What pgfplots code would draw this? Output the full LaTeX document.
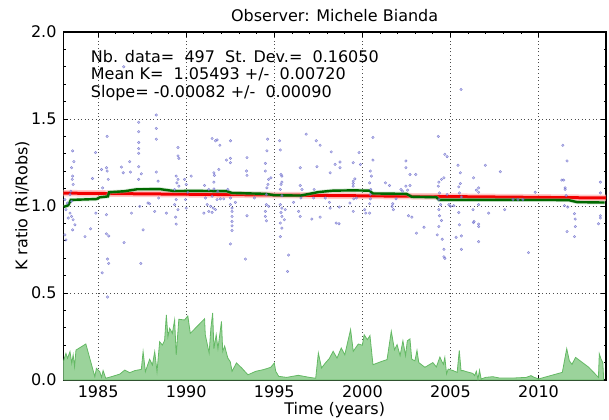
\documentclass[border=0pt]{standalone}
\usepackage{pgfplots}
\usepackage{pgfplotstable}
\pgfplotsset{compat=1.18}
\usepackage{fontspec}
\setmainfont{DejaVu Sans}

\definecolor{scatc}{RGB}{95,95,200}
\definecolor{fillc}{RGB}{155,211,155}
\definecolor{edgec}{RGB}{100,185,100}
\definecolor{meanc}{RGB}{0,105,0}

% individual K ratios
\pgfplotstableread{
x y
1983.55 1.317
1983.62 1.255
1983.49 1.220
1983.55 1.172
1983.53 1.153
1983.58 1.124
1983.45 1.085
1983.40 1.066
1983.11 1.037
1983.49 1.027
1983.25 1.017
1983.17 0.979
1983.40 0.959
1983.49 0.940
1983.30 0.931
1983.58 0.921
1983.68 0.892
1983.55 0.863
1983.11 0.834
1983.17 0.805
1984.25 0.824
1984.57 0.869
1984.68 1.158
1984.85 1.307
1984.87 0.959
1985.19 1.210
1985.47 1.220
1985.51 1.201
1985.57 1.153
1985.51 1.400
1985.25 1.104
1985.47 0.950
1985.47 0.840
1985.60 0.828
1985.53 0.695
1985.60 0.670
1985.23 0.616
1985.53 0.477
1986.45 1.800
1986.32 1.224
1986.42 1.191
1986.79 1.255
1986.83 1.195
1986.47 0.790
1986.89 0.959
1987.30 1.481
1987.30 1.427
1987.30 1.365
1987.30 1.330
1987.30 1.303
1987.30 1.226
1987.30 1.153
1987.45 1.185
1987.42 0.670
1987.55 0.863
1987.36 0.998
1987.83 1.017
1987.92 1.013
1988.21 0.969
1988.30 1.523
1988.30 1.446
1988.30 1.384
1988.30 1.195
1988.40 1.143
1988.43 1.046
1988.87 0.959
1989.53 1.336
1989.53 1.288
1989.58 1.274
1989.43 1.172
1989.53 1.153
1989.47 1.133
1989.58 1.114
1989.34 1.095
1989.43 1.037
1989.34 1.008
1989.53 0.979
1989.40 0.936
1989.43 0.896
1989.91 1.153
1990.00 1.124
1990.09 1.079
1990.28 1.172
1989.96 1.037
1990.00 0.988
1991.47 1.388
1991.66 1.375
1991.75 1.380
1991.91 1.349
1992.51 1.375
1992.28 1.264
1992.51 1.274
1992.51 1.249
1991.85 1.210
1991.57 1.191
1991.60 1.176
1991.57 1.137
1991.04 1.118
1991.28 1.095
1991.57 1.098
1991.79 1.085
1992.36 1.095
1991.09 1.046
1991.47 1.056
1991.75 1.037
1991.94 1.041
1992.13 1.041
1992.51 1.046
1991.19 1.008
1991.38 0.998
1991.53 0.988
1991.66 0.979
1991.28 0.969
1991.47 0.963
1991.00 0.959
1992.51 1.008
1992.60 0.988
1992.60 0.969
1992.60 0.940
1992.60 0.911
1992.60 0.886
1992.60 0.859
1992.51 0.782
1992.79 1.021
1993.45 1.278
1993.42 1.201
1993.45 1.176
1993.45 0.944
1993.36 0.695
1993.87 1.046
1994.49 1.245
1994.49 1.201
1994.62 1.384
1994.58 1.317
1994.68 1.153
1994.64 1.124
1994.58 1.104
1994.55 1.066
1994.55 1.008
1994.68 0.998
1994.49 0.969
1994.49 0.940
1994.55 0.915
1994.81 1.162
1995.30 1.375
1995.34 1.322
1995.38 1.181
1995.43 1.172
1995.43 1.137
1995.38 1.124
1995.34 1.095
1995.43 1.060
1995.34 1.008
1995.43 0.988
1995.38 0.963
1995.43 0.940
1995.34 0.902
1995.43 0.873
1995.34 0.824
1995.62 0.979
1995.57 0.921
1995.81 0.718
1995.75 0.624
1996.09 1.021
1996.47 1.220
1996.47 1.118
1996.57 1.095
1996.51 1.046
1996.38 0.969
1996.47 0.940
1996.81 1.413
1997.13 0.925
1997.26 1.095
1997.23 1.046
1997.38 1.375
1997.60 1.349
1997.42 1.226
1997.60 0.936
1997.89 1.046
1998.13 1.021
1998.17 1.191
1998.23 1.311
1998.17 0.988
1998.51 0.902
1998.45 1.239
1998.73 1.253
1998.73 1.220
1999.48 1.249
1999.57 1.156
1999.48 1.143
1999.48 1.129
1999.48 1.114
1999.66 1.046
1999.51 1.041
1999.81 1.307
1999.89 1.239
1998.69 0.994
1998.67 0.898
1999.48 0.969
1999.29 1.017
2000.13 0.979
2000.19 0.959
2000.41 1.013
2000.45 1.041
2000.45 1.066
2000.47 1.095
2000.41 1.133
2000.51 1.172
2000.45 1.201
2000.60 1.394
2000.60 1.264
2000.41 0.959
2001.31 1.133
2001.54 1.118
2001.69 0.998
2001.72 1.013
2001.76 0.979
2001.91 1.041
2002.19 1.095
2002.28 1.085
2002.47 1.114
2002.57 1.091
2002.70 1.118
2002.47 1.220
2002.47 1.259
2002.70 1.181
2003.03 1.181
2002.62 0.944
2002.81 0.936
2003.07 0.844
2003.50 0.878
2004.31 1.400
2004.34 1.137
2004.49 1.153
2004.63 1.162
2004.31 1.114
2004.38 1.075
2004.34 1.037
2004.44 1.008
2004.34 0.979
2004.38 0.944
2004.49 0.917
2004.34 0.882
2004.53 0.809
2004.63 0.751
2004.63 0.708
2004.68 0.699
2004.25 0.834
2004.68 1.297
2004.81 1.284
2004.81 1.066
2004.91 1.008
2005.00 0.998
2005.19 1.002
2005.43 1.234
2005.56 1.191
2005.56 1.129
2005.47 1.110
2005.51 1.075
2005.62 1.052
2005.47 0.963
2005.51 0.892
2005.62 0.828
2005.32 0.820
2005.62 0.751
2005.60 1.670
2006.31 1.162
2006.31 0.905
2006.47 1.091
2006.60 1.104
2006.60 1.079
2006.28 0.979
2006.34 0.911
2006.60 0.896
2006.60 0.882
2006.60 1.008
2006.60 0.795
2006.98 1.234
2007.17 0.959
2007.83 1.197
2008.08 0.979
2009.43 0.732
2009.81 1.079
2008.55 1.037
2008.83 1.037
2009.11 1.037
2011.38 1.349
2011.62 1.259
2011.32 1.149
2011.43 1.149
2011.51 1.104
2011.51 1.095
2011.57 1.060
2011.47 1.002
2011.66 0.994
2011.62 0.853
2012.04 0.956
2012.08 0.925
2012.09 0.882
2012.04 0.824
2013.51 1.137
2013.51 1.075
2013.51 0.944
2013.51 0.931
2013.40 0.898
}\kdata

% running mean
\pgfplotstableread{
x y
1983.05 0.995
1983.30 1.004
1983.45 1.035
1984.90 1.040
1985.10 1.050
1985.55 1.055
1985.62 1.079
1986.50 1.085
1987.20 1.096
1988.50 1.097
1989.30 1.086
1990.50 1.087
1992.30 1.085
1992.60 1.075
1994.50 1.070
1995.00 1.062
1996.50 1.060
1997.00 1.070
1997.50 1.080
1998.30 1.088
1999.50 1.090
2000.40 1.088
2000.60 1.072
2002.50 1.070
2002.80 1.053
2004.20 1.050
2004.35 1.035
2008.00 1.035
2011.70 1.034
2012.20 1.022
2013.75 1.020
}\runmean

% running scatter (bottom area)
\pgfplotstableread{
x y
1983.02 0.000
1983.02 0.105
1983.17 0.153
1983.26 0.125
1983.40 0.163
1983.50 0.096
1983.58 0.144
1983.66 0.077
1983.74 0.172
1984.30 0.207
1984.81 0.019
1984.90 0.067
1985.09 0.048
1985.19 0.015
1985.28 0.054
1985.43 0.010
1985.75 0.019
1986.23 0.034
1986.51 0.057
1986.79 0.042
1987.08 0.054
1987.45 0.061
1987.55 0.163
1987.68 0.048
1987.92 0.119
1988.08 0.086
1988.21 0.163
1988.34 0.048
1988.49 0.220
1988.64 0.201
1988.77 0.226
1988.87 0.374
1988.96 0.249
1989.06 0.297
1989.21 0.268
1989.34 0.345
1989.43 0.144
1989.58 0.349
1989.90 0.345
1990.09 0.368
1990.23 0.268
1991.04 0.352
1991.08 0.260
1991.30 0.155
1991.40 0.300
1991.50 0.385
1991.57 0.180
1991.70 0.260
1991.80 0.180
1992.00 0.337
1992.07 0.165
1992.18 0.195
1992.36 0.126
1992.50 0.105
1992.60 0.050
1992.85 0.098
1993.15 0.069
1993.50 0.030
1993.95 0.050
1994.40 0.060
1994.80 0.073
1995.00 0.098
1995.08 0.050
1995.25 0.021
1995.70 0.015
1996.36 0.027
1997.00 0.015
1997.35 0.010
1997.50 0.155
1997.68 0.069
1997.90 0.098
1998.12 0.123
1998.34 0.165
1998.56 0.126
1998.80 0.184
1999.00 0.145
1999.33 0.290
1999.48 0.165
1999.61 0.184
1999.77 0.207
2000.00 0.200
2000.10 0.260
2000.28 0.232
2000.43 0.255
2000.60 0.088
2001.10 0.107
2001.40 0.117
2001.64 0.280
2001.82 0.174
2001.97 0.203
2002.14 0.140
2002.30 0.225
2002.45 0.140
2002.55 0.225
2002.70 0.236
2002.80 0.120
2002.98 0.110
2003.10 0.170
2003.20 0.100
2003.55 0.073
2004.00 0.100
2004.20 0.075
2004.40 0.132
2004.50 0.109
2004.60 0.090
2004.68 0.130
2004.78 0.035
2004.87 0.063
2005.15 0.054
2005.38 0.044
2005.50 0.170
2005.60 0.054
2005.72 0.054
2005.90 0.048
2006.27 0.038
2006.37 0.025
2006.47 0.050
2006.56 0.006
2006.65 0.056
2006.74 0.006
2007.00 0.015
2007.40 0.019
2007.80 0.011
2008.50 0.011
2009.30 0.015
2009.57 0.025
2009.76 0.015
2010.00 0.006
2011.35 0.044
2011.60 0.180
2011.75 0.110
2011.90 0.090
2012.10 0.130
2012.30 0.115
2012.85 0.073
2013.40 0.015
2013.45 0.150
2013.55 0.120
2013.65 0.100
2013.70 0.000
}\runsd

\begin{document}
\fontsize{16bp}{19bp}\selectfont
\begin{tikzpicture}
\useasboundingbox (-63.3bp,-40bp) rectangle (545.7bp,380bp);
\begin{axis}[
  at={(0,0)}, anchor=south west,
  scale only axis, width=542.7bp, height=348bp,
  xmin=1983.02, xmax=2013.83, ymin=0, ymax=2,
  xtick={1985,1990,1995,2000,2005,2010},
  xticklabels={1985,1990,1995,2000,2005,2010},
  ytick={0,0.5,1,1.5,2},
  yticklabels={0.0,0.5,1.0,1.5,2.0},
  minor x tick num=4, minor y tick num=4,
  tick align=inside, xtick pos=both, ytick pos=both,
  major tick length=5bp, minor tick length=2.5bp,
  tick style={black, line width=0.8bp},
  axis line style={line width=1.2bp},
  xmajorgrids, ymajorgrids,
  major grid style={black!70, line width=0.8bp, dash pattern=on 1bp off 2.6bp},
  yticklabel style={xshift=-1.3bp},
  title={Observer: Michele Bianda},
  title style={at={(axis description cs:0.5,1.0144)}, anchor=base, inner sep=0pt},
  xlabel={Time (years)},
  xlabel style={at={(axis description cs:0.5,-0.0977)}, anchor=base, inner sep=0pt},
  ylabel={K ratio (Ri/Robs)},
  ylabel style={at={(axis description cs:-0.066,0.5)}, anchor=base, inner sep=0pt},
]
\addplot[fill=fillc, draw=edgec, line width=0.8bp] table {\runsd} -- cycle;
\addplot[only marks, mark=*, mark size=1.3bp,
  mark options={draw=scatc, draw opacity=0.7, fill=scatc!55!white, fill opacity=0.6}]
  table {\kdata};
\addplot[red!30, line width=6.5bp, opacity=0.7] coordinates {(1983.02,1.074) (2013.83,1.046)};
\addplot[red!95!black, line width=3bp] coordinates {(1983.02,1.074) (2013.83,1.046)};
\addplot[green!45!black!40, line width=4bp, opacity=0.4] table {\runmean};
\addplot[meanc, line width=2.4bp] table {\runmean};
\node[anchor=base west, inner sep=0pt] at (axis description cs:0.0505,0.9118) {Nb. data=~~497~~St. Dev.=~~0.16050};
\node[anchor=base west, inner sep=0pt] at (axis description cs:0.0505,0.8621) {Mean K=~~1.05493 +/-~~0.00720};
\node[anchor=base west, inner sep=0pt] at (axis description cs:0.0505,0.8124) {Slope= -0.00082 +/-~~0.00090};
\end{axis}
\end{tikzpicture}
\end{document}
